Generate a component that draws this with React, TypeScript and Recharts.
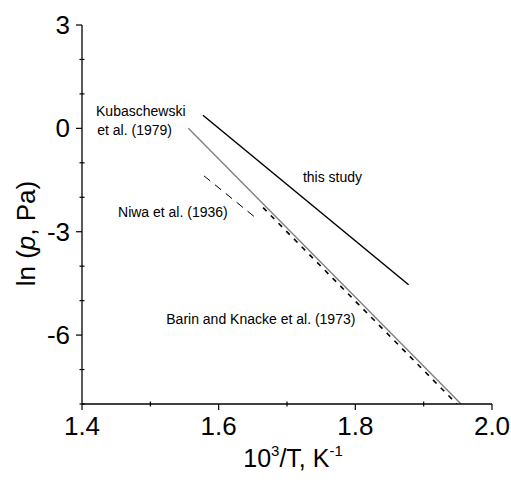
import React from 'react';
import {
  LineChart,
  Line,
  XAxis,
  YAxis,
  ReferenceDot
} from 'recharts';

// ln(p) vs 1000/T, two end points per line
const thisStudy = [
  { x: 1.577, y: 0.38 },
  { x: 1.878, y: -4.54 }
];
const kubaschewski = [
  { x: 1.5556, y: 0 },
  { x: 1.9547, y: -8 }
];
const niwa = [
  { x: 1.5786, y: -1.38 },
  { x: 1.6576, y: -2.65 }
];
const barinKnacke = [
  { x: 1.665, y: -2.3 },
  { x: 1.9485, y: -8 }
];

const xTicks = [1.4, 1.5, 1.6, 1.7, 1.8, 1.9, 2.0];
const xMajor = [1.4, 1.6, 1.8, 2.0];
const yTicks = [3, 2, 1, 0, -1, -2, -3, -4, -5, -6, -7, -8];
const yMajor = [3, 0, -3, -6];

const notes = [
  { x: 1.486, y: 0.49, text: 'Kubaschewski' },
  { x: 1.477, y: -0.04, text: 'et al. (1979)' },
  { x: 1.7666, y: -1.41, text: 'this study' },
  { x: 1.533, y: -2.42, text: 'Niwa et al. (1936)' },
  { x: 1.6617, y: -5.52, text: 'Barin and Knacke et al. (1973)' }
];

const FONT = 'Arial, "Liberation Sans", sans-serif';

const isMajorX = (v: number) => xMajor.some((m) => Math.abs(m - v) < 1e-6);

const LeftTick = ({ x, y, payload }: any) => {
  const major = yMajor.includes(payload.value);
  return (
    <g>
      <line
        x1={major ? x - 6 : x - 2.5}
        x2={major ? x : x + 2.5}
        y1={y}
        y2={y}
        stroke="#000"
        strokeWidth={1.2}
      />
      {major && (
        <text x={x - 12} y={y} dy={9} textAnchor="end" fontSize={26} fontFamily={FONT} fill="#000">
          {payload.value}
        </text>
      )}
    </g>
  );
};

const RightTick = ({ x, y, payload }: any) => {
  if (yMajor.includes(payload.value)) return <g />;
  return <line x1={x - 2.5} x2={x + 1.5} y1={y} y2={y} stroke="#000" strokeWidth={1} />;
};

const BottomTick = ({ x, y, payload }: any) => {
  const major = isMajorX(payload.value);
  return (
    <g>
      <line
        x1={x}
        x2={x}
        y1={major ? y : y - 2.5}
        y2={major ? y + 6 : y + 2.5}
        stroke="#000"
        strokeWidth={1.2}
      />
      {major && (
        <text x={x} y={y + 31} textAnchor="middle" fontSize={26} fontFamily={FONT} fill="#000">
          {payload.value.toFixed(1)}
        </text>
      )}
    </g>
  );
};

const TopTick = ({ x, y, payload }: any) => {
  if (isMajorX(payload.value)) return <g />;
  return <line x1={x} x2={x} y1={y - 1.5} y2={y + 2.5} stroke="#000" strokeWidth={1} />;
};

const YTitle = ({ viewBox }: any) => {
  const cx = 26;
  const cy = viewBox.y + viewBox.height / 2 + 19;
  return (
    <text
      x={cx}
      y={cy}
      transform={`rotate(-90, ${cx}, ${cy})`}
      textAnchor="middle"
      dominantBaseline="central"
      fontSize={26}
      fontFamily={FONT}
      fill="#000"
    >
      ln (<tspan fontStyle="italic">p</tspan>, Pa)
    </text>
  );
};

const XTitle = ({ viewBox }: any) => {
  const cx = viewBox.x + viewBox.width / 2 + 6;
  return (
    <text x={cx} y={467} textAnchor="middle" fontSize={25} fontFamily={FONT} fill="#000">
      10<tspan fontSize={15} dy={-11}>3</tspan>
      <tspan dy={11}>/T, K</tspan>
      <tspan fontSize={15} dy={-11}>-1</tspan>
    </text>
  );
};

const App: React.FC = () => {
  return (
    <div style={{ position: 'absolute', left: 0, top: 0, width: 511, height: 482, background: '#fff' }}>
      <LineChart width={511} height={482} margin={{ top: 25, right: 19, bottom: 18, left: 22 }}>
        <XAxis
          xAxisId="b"
          type="number"
          dataKey="x"
          domain={[1.4, 2.0]}
          ticks={xTicks}
          allowDataOverflow
          height={60}
          tickSize={0}
          tickMargin={0}
          tickLine={false}
          axisLine={{ stroke: '#000', strokeWidth: 1.3 }}
          tick={<BottomTick />}
          interval={0}
          label={<XTitle />}
        />
        <XAxis
          xAxisId="t"
          orientation="top"
          type="number"
          dataKey="x"
          domain={[1.4, 2.0]}
          ticks={xTicks}
          allowDataOverflow
          height={0}
          tickSize={0}
          tickMargin={0}
          tickLine={false}
          axisLine={{ stroke: '#000', strokeWidth: 1.3 }}
          tick={<TopTick />}
          interval={0}
        />
        <YAxis
          yAxisId="l"
          type="number"
          domain={[-8, 3]}
          ticks={yTicks}
          allowDataOverflow
          width={60}
          tickSize={0}
          tickMargin={0}
          tickLine={false}
          axisLine={{ stroke: '#000', strokeWidth: 1.3 }}
          tick={<LeftTick />}
          interval={0}
          label={<YTitle />}
        />
        <YAxis
          yAxisId="r"
          orientation="right"
          type="number"
          domain={[-8, 3]}
          ticks={yTicks}
          allowDataOverflow
          width={0}
          tickSize={0}
          tickMargin={0}
          tickLine={false}
          axisLine={{ stroke: '#000', strokeWidth: 1.3 }}
          tick={<RightTick />}
          interval={0}
        />
        <Line
          xAxisId="b"
          yAxisId="l"
          data={kubaschewski}
          dataKey="y"
          stroke="#808080"
          strokeWidth={1.4}
          dot={false}
          isAnimationActive={false}
        />
        <Line
          xAxisId="b"
          yAxisId="l"
          data={thisStudy}
          dataKey="y"
          stroke="#000"
          strokeWidth={1.5}
          dot={false}
          isAnimationActive={false}
        />
        <Line
          xAxisId="b"
          yAxisId="l"
          data={niwa}
          dataKey="y"
          stroke="#000"
          strokeWidth={1}
          strokeDasharray="8 6"
          dot={false}
          isAnimationActive={false}
        />
        <Line
          xAxisId="b"
          yAxisId="l"
          data={barinKnacke}
          dataKey="y"
          stroke="#000"
          strokeWidth={1.6}
          strokeDasharray="5 6"
          dot={false}
          isAnimationActive={false}
        />
        {notes.map((n) => (
          <ReferenceDot
            key={n.text}
            xAxisId="b"
            yAxisId="l"
            x={n.x}
            y={n.y}
            r={0}
            fill="none"
            stroke="none"
            label={{ value: n.text, position: 'center', fontSize: 14, fill: '#000', fontFamily: FONT }}
          />
        ))}
      </LineChart>
    </div>
  );
};

export default App;
